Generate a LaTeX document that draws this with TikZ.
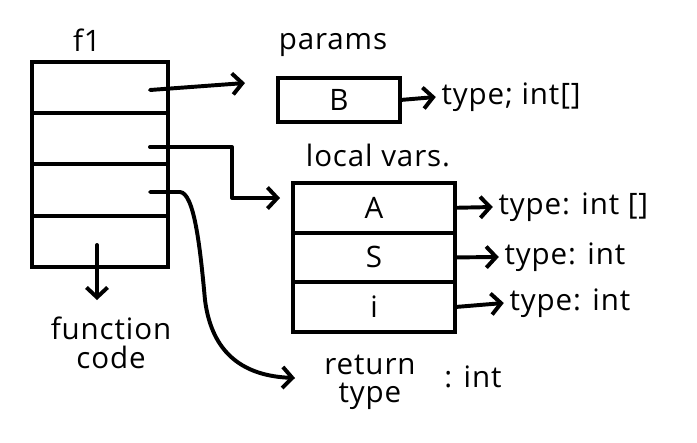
\documentclass[tikz,border=0pt]{standalone}
\usepackage{fontspec}
\setmainfont[LetterSpace=3]{Open Sans}
\usetikzlibrary{positioning,arrows.meta}
\tikzset{
  cell/.style={draw, line width=2.8pt, outer sep=0pt, minimum width=3.4cm, minimum height=1.28cm, inner sep=0pt},
  var/.style={cell, minimum width=4.05cm, minimum height=1.24cm, font=\fontsize{21}{23}\selectfont},
  lbl/.style={font=\fontsize{21}{23}\selectfont, inner sep=1pt, align=center},
  ptr/.style={line width=2.8pt, -{Straight Barb[length=7pt,width=15pt]}, line cap=round, line join=round}
}
\begin{document}
\begin{tikzpicture}[x=0.025cm,y=-0.025cm]
	\useasboundingbox (0,0) rectangle (697,442);
	% frame f1
	\node[lbl] (f1) at (87,40) {f1};
	\node[cell] (r1) at (100,87.6) {};
	\node[cell, below=0pt of r1] (r2) {};
	\node[cell, below=0pt of r2] (r3) {};
	\node[cell, below=0pt of r3] (r4) {};
	\coordinate (c1) at (150,90);
	\coordinate (c2) at (150,147);
	\coordinate (c3) at (150,192);
	\coordinate (c4) at (97,245);
	\node[lbl] (fn) at (111,343) {function\\[-2pt]code};
	\draw[ptr] (c4) -- (97,300);
	% params
	\node[lbl] (params) at (333,45) {params};
	\node[cell, minimum width=3.05cm, minimum height=1.1cm, font=\fontsize{21}{23}\selectfont] (pb) at (339,100) {B};
	\node[lbl, anchor=west] (tb) at (440,97) {type; int[]};
	\coordinate (pin) at (245,83);
	\draw[ptr] (c1) -- (pin);
	\draw[ptr] (pb.east) -- ([xshift=-3pt]tb.west);
	% local vars
	\node[lbl] (locals) at (378,155) {local vars.};
	\node[var] (la) at (374,207.8) {A};
	\node[var, below=0pt of la] (ls) {S};
	\node[var, below=0pt of ls] (li) {i};
	\coordinate (lin) at (280,198);
	\draw[ptr] (c2) -- (232,147) -- (232,198) -- (lin);
	\node[lbl, anchor=west] (ta) at (497,207) {type: int []};
	\node[lbl, anchor=west] (ts) at (503,257) {type: int};
	\node[lbl, anchor=west] (ti) at (508,303) {type: int};
	\draw[ptr] (la.east) -- ([xshift=-3pt]ta.west);
	\draw[ptr] (ls.east) -- ([xshift=-3pt]ts.west);
	\draw[ptr] (li.east) -- ([xshift=-3pt]ti.west);
	% return type
	\node[lbl] (ret) at (370,382) {return\\[-3pt]type};
	\node[lbl] (rint) at (473,377) {: int};
	\coordinate (rin) at (295,378);
	\draw[ptr] (c3) -- (180,192) .. controls (194,193) and (200,245) .. (205,300)
		.. controls (212,355) and (245,376) .. (rin);
\end{tikzpicture}
\end{document}
